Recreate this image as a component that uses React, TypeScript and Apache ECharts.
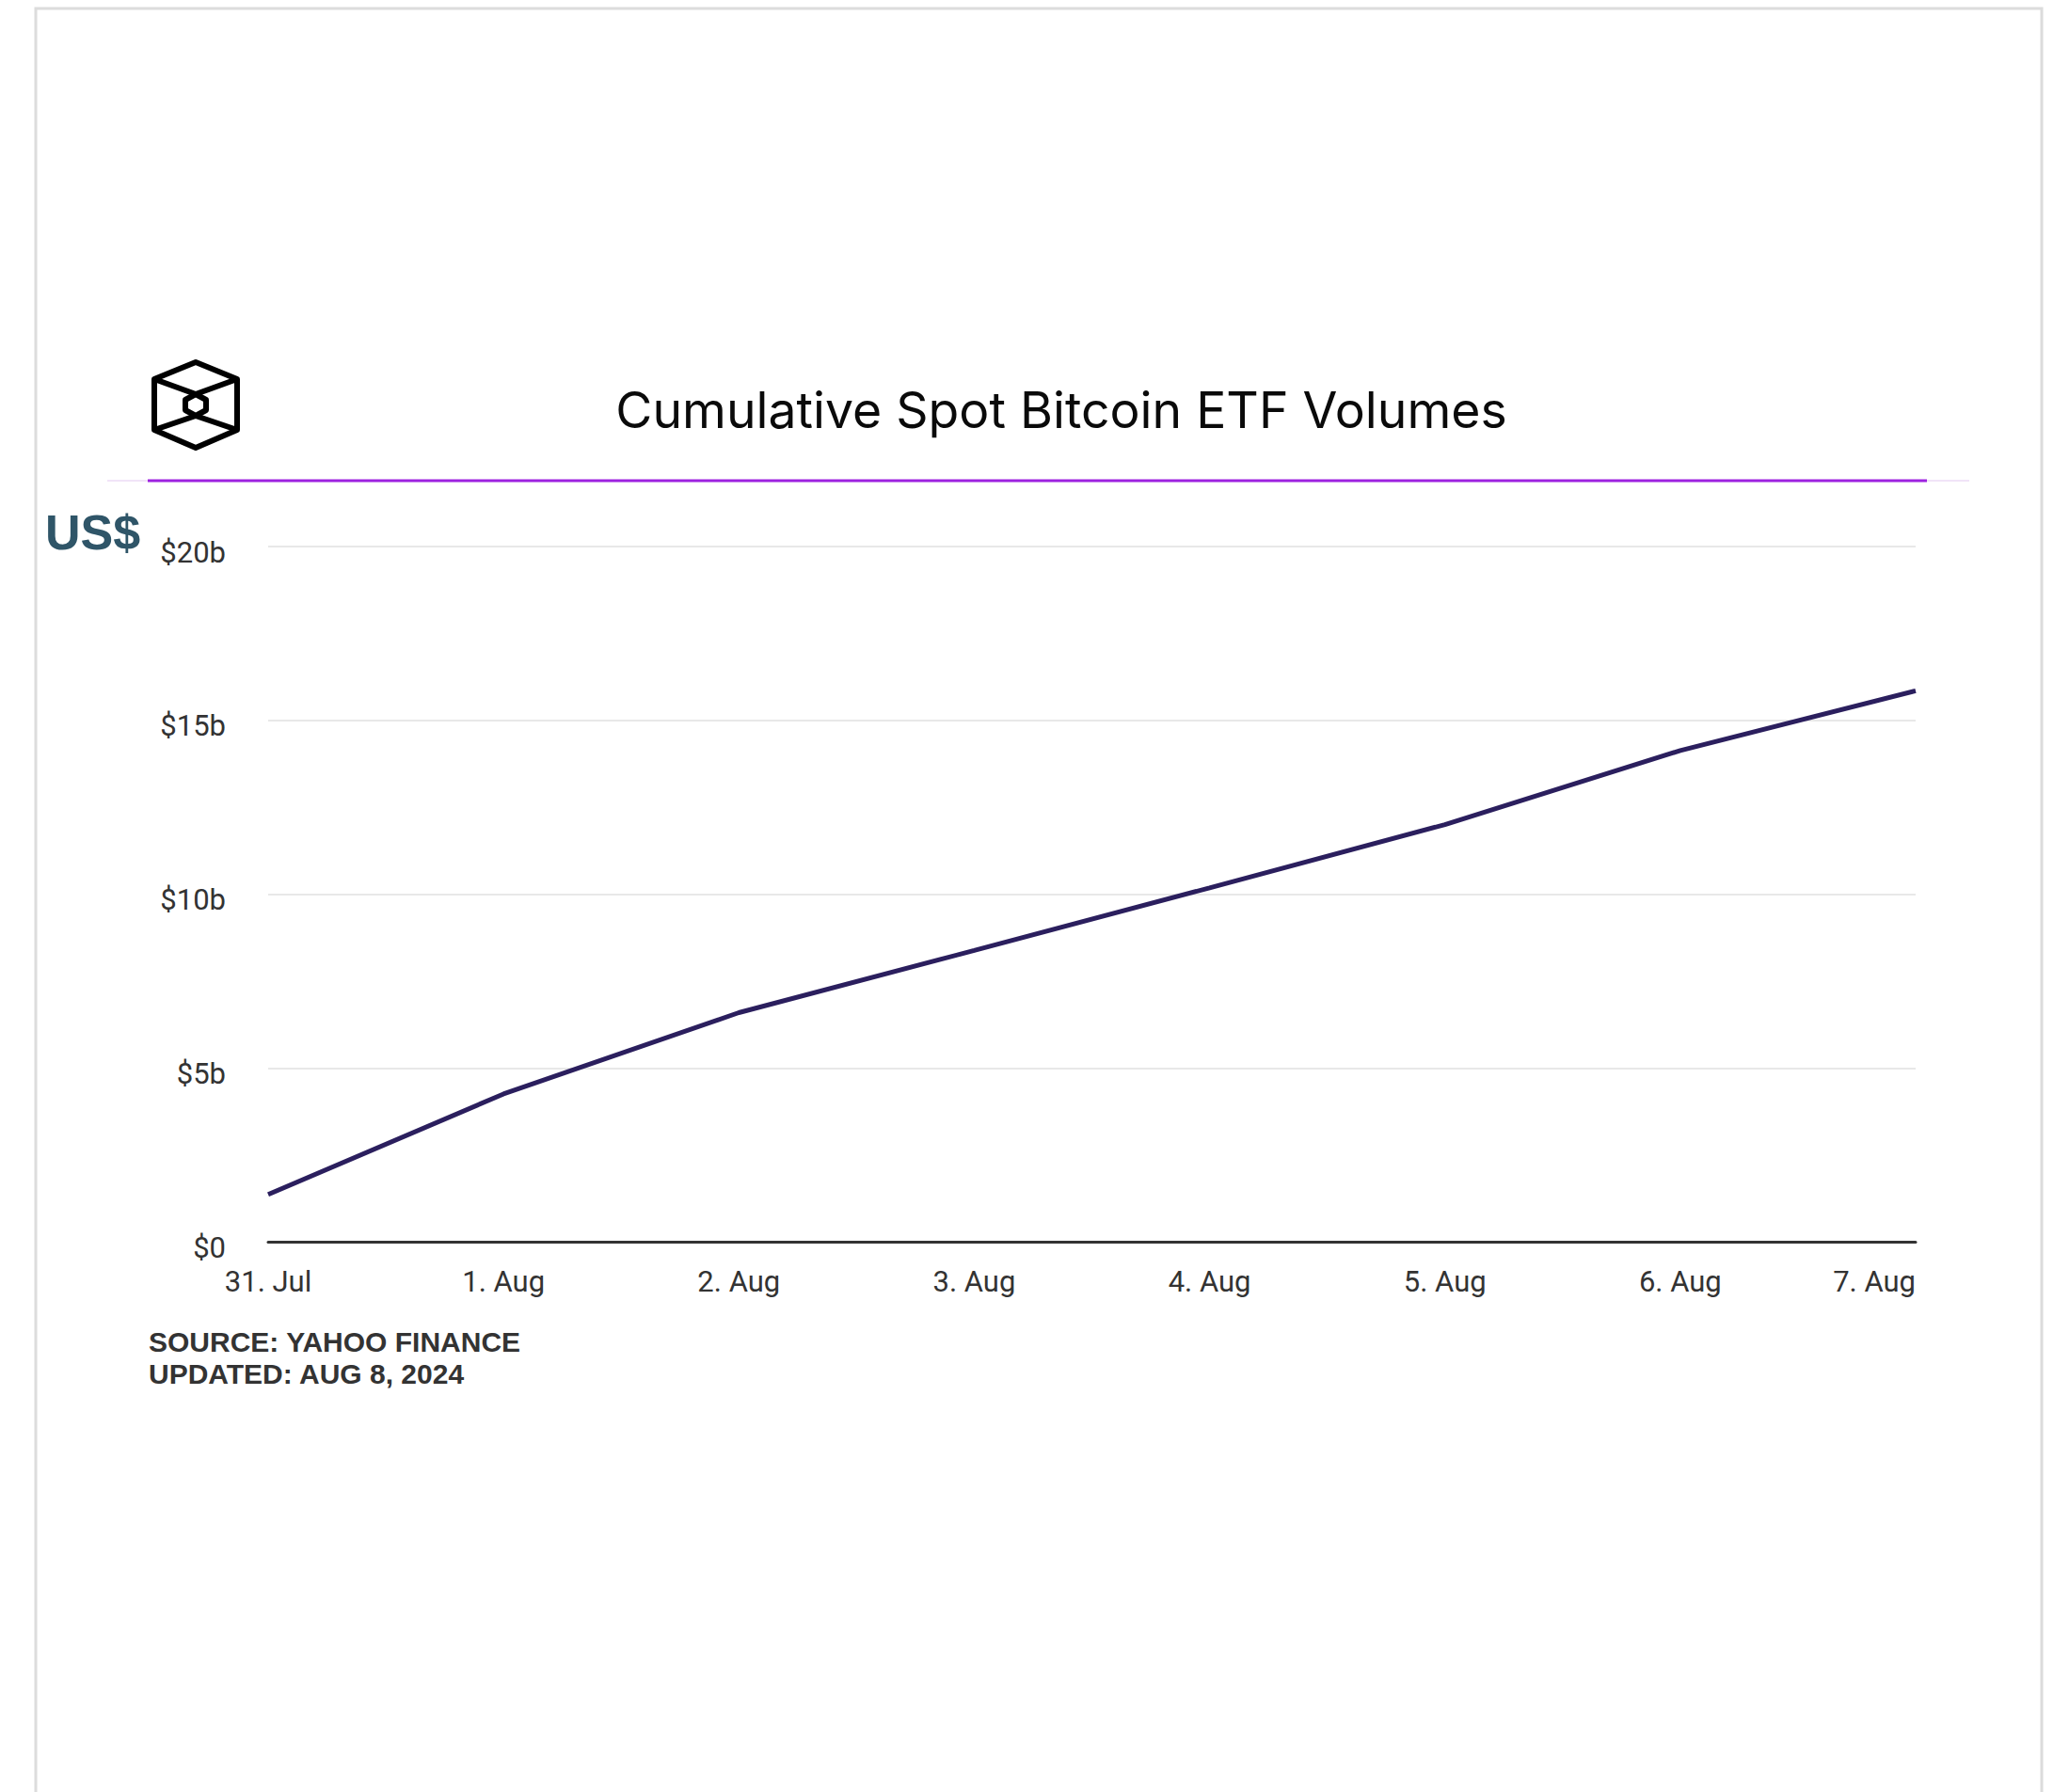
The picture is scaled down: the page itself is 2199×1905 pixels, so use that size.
import React, { useEffect, useRef } from "react";
import * as echarts from "echarts";

const categories = ["31. Jul", "1. Aug", "2. Aug", "3. Aug", "4. Aug", "5. Aug", "6. Aug", "7. Aug"];
const cumulativeVolumes = [1.36, 4.25, 6.59, 8.38, 10.18, 12.0, 14.13, 15.85];
const yMin = 0;
const yMax = 20;
const yInterval = 5;
const titleText = "Cumulative Spot Bitcoin ETF Volumes";
const unitText = "US$";
const sourceLines = ["SOURCE: YAHOO FINANCE", "UPDATED: AUG 8, 2024"];

export default function App() {
  const ref = useRef<HTMLDivElement>(null);
  useEffect(() => {
    if (!ref.current) return;
    const chart = echarts.init(ref.current, null, { renderer: "svg" });
    const logoStroke = { stroke: "#000", lineWidth: 6, fill: "none", lineJoin: "round" as const };
    chart.setOption({
      animation: false,
      backgroundColor: "#fff",
      grid: { left: 285, right: 163, top: 581, bottom: 585, containLabel: false },
      xAxis: {
        type: "category",
        data: categories,
        boundaryGap: false,
        axisLine: { show: true, lineStyle: { color: "#333", width: 3 } },
        axisTick: { show: false },
        splitLine: { show: false },
        axisLabel: {
          margin: 27,
          fontSize: 31,
          fontFamily: "Roboto",
          color: "#333",
          alignMinLabel: "center",
          alignMaxLabel: "right",
        },
      },
      yAxis: {
        type: "value",
        min: yMin,
        max: yMax,
        interval: yInterval,
        axisLine: { show: false },
        axisTick: { show: false },
        splitLine: { show: true, lineStyle: { color: "#e8e8e8", width: 2 } },
        axisLabel: {
          margin: 45,
          fontSize: 31,
          fontFamily: "Roboto",
          color: "#333",
          verticalAlign: "top",
          lineHeight: 12,
          formatter: (v: number) => (v === 0 ? "$0" : "$" + v + "b"),
        },
      },
      series: [
        {
          type: "line",
          data: cumulativeVolumes,
          symbol: "none",
          lineStyle: { color: "#2b1f5e", width: 5 },
          z: 5,
        },
      ],
      graphic: [
        {
          type: "rect",
          shape: { x: 38, y: 9, width: 2132, height: 2000 },
          style: { fill: "none", stroke: "#dcdcdc", lineWidth: 3 },
          silent: true,
        },
        {
          type: "line",
          shape: { x1: 114, y1: 511, x2: 2093, y2: 511 },
          style: { stroke: "#f1e4f8", lineWidth: 2 },
        },
        {
          type: "line",
          shape: { x1: 157, y1: 511, x2: 2048, y2: 511 },
          style: { stroke: "#9d22e0", lineWidth: 3 },
        },
        {
          type: "polygon",
          shape: { points: [[208, 385], [252, 403], [252, 457], [208, 476], [164, 457], [164, 403]] },
          style: logoStroke,
        },
        {
          type: "polyline",
          shape: { points: [[164, 403], [208, 419], [252, 403]] },
          style: logoStroke,
        },
        {
          type: "polyline",
          shape: { points: [[164, 457], [208, 442], [252, 457]] },
          style: logoStroke,
        },
        {
          type: "polygon",
          shape: { points: [[208, 419], [219, 425], [219, 436], [208, 442], [197, 436], [197, 425]] },
          style: logoStroke,
        },
        {
          type: "text",
          x: 1128,
          y: 435,
          style: {
            text: titleText,
            fontFamily: "Inter",
            fontSize: 53.5,
            fontWeight: 400,
            fill: "#0a0a0a",
            textAlign: "center",
            textVerticalAlign: "middle",
          },
        },
        {
          type: "text",
          x: 48,
          y: 566,
          style: {
            text: unitText,
            fontFamily: "Liberation Sans",
            fontSize: 52,
            fontWeight: "bold",
            fill: "#2f5568",
            textAlign: "left",
            textVerticalAlign: "middle",
          },
        },
        ...sourceLines.map((t, i) => ({
          type: "text",
          x: 158,
          y: 1426 + i * 34,
          style: {
            text: t,
            fontFamily: "Liberation Sans",
            fontSize: 30,
            fontWeight: "bold",
            fill: "#333",
            textAlign: "left",
            textVerticalAlign: "middle",
          },
        })),
      ],
    });
    return () => chart.dispose();
  }, []);
  return (
    <div
      ref={ref}
      style={{ position: "fixed", left: 0, top: 0, width: 2199, height: 1905, background: "#fff" }}
    />
  );
}
